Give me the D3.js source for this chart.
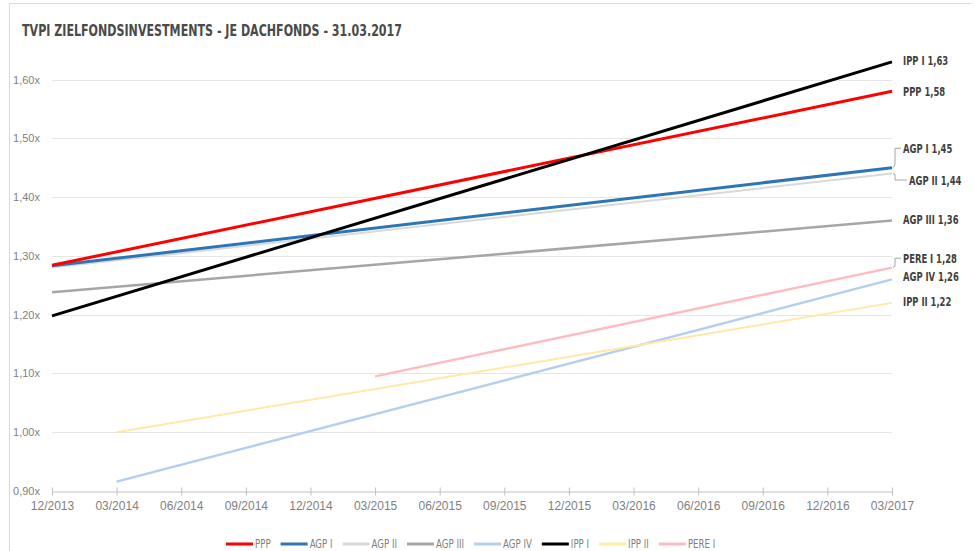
<!DOCTYPE html>
<html>
<head>
<meta charset="utf-8">
<script src="https://cdn.jsdelivr.net/npm/d3@7"></script>
<style>
  html, body { margin: 0; padding: 0; background: #fff; }
  svg { display: block; }
</style>
</head>
<body>
<svg id="chart" width="975" height="551"></svg>
<script>
// Quarter-end reporting dates on the x axis
const quarters = ["12/2013","03/2014","06/2014","09/2014","12/2014","03/2015","06/2015",
                  "09/2015","12/2015","03/2016","06/2016","09/2016","12/2016","03/2017"];

// Y axis ticks (TVPI multiple)
const yTicks = [0.9, 1.0, 1.1, 1.2, 1.3, 1.4, 1.5, 1.6];

// Fund names, drawing order and colours
const funds   = ["PPP", "AGP I", "AGP II", "AGP III", "AGP IV", "IPP I", "IPP II", "PERE I"];
const colors  = ["#ff0000", "#2e75b6", "#d9d9d9", "#a6a6a6", "#b4cfee", "#000000", "#ffe9a8", "#ffbcc0"];
const widths  = [3, 3, 2, 2.5, 2.5, 3, 2, 2.5];

// First reported quarter and TVPI values (first / latest) per fund
const startQuarter = ["12/2013","12/2013","12/2013","12/2013","03/2014","12/2013","03/2014","03/2015"];
const startValue   = [1.284, 1.283, 1.280, 1.238, 0.916, 1.198, 1.000, 1.095];
const endValue     = [1.58, 1.45, 1.44, 1.36, 1.26, 1.63, 1.22, 1.28];

// End-label text and vertical position (in value units, to keep labels apart)
const endLabels  = ["PPP 1,58", "AGP I 1,45", "AGP II 1,44", "AGP III 1,36", "AGP IV 1,26", "IPP I 1,63", "IPP II 1,22", "PERE I 1,28"];
const labelValue = [1.58, 1.483, 1.429, 1.362, 1.265, 1.632, 1.223, 1.296];

const title = "TVPI ZIELFONDSINVESTMENTS - JE DACHFONDS - 31.03.2017";

const svg = d3.select("#chart");
const W = 975, H = 551;
const margin = { left: 52, right: 83, top: 20, bottom: 60 };

const x = d3.scalePoint().domain(quarters).range([margin.left, W - margin.right]);
const y = d3.scaleLinear().domain([0.9, 1.6]).range([491, 79.5]);

const narrow = "'Liberation Sans Narrow', 'DejaVu Sans Condensed', 'Liberation Sans', sans-serif";

// text drawn horizontally squeezed, to mimic a condensed face
function condensedText(parent, px, py, factor) {
  return parent.append("text")
    .attr("x", 0).attr("y", 0)
    .attr("transform", `translate(${px},${py}) scale(${factor},1)`);
}

// frame (top and left edges)
svg.append("path")
  .attr("d", `M9.5,${H} L9.5,3.5 L971,3.5`)
  .attr("fill", "none").attr("stroke", "#d9d9d9").attr("stroke-width", 1);

// title
condensedText(svg, 22, 35.5, 0.86)
  .attr("font-family", narrow)
  .attr("font-weight", "bold").attr("font-size", 16.5)
  .attr("fill", "#4a4a4a")
  .attr("textLength", 380 / 0.86).attr("lengthAdjust", "spacingAndGlyphs")
  .text(title);

// horizontal gridlines
svg.append("g").selectAll("line")
  .data(yTicks.filter(d => d > 0.9))
  .join("line")
  .attr("x1", x(quarters[0])).attr("x2", x(quarters[quarters.length - 1]))
  .attr("y1", d => Math.round(y(d)) + 0.5).attr("y2", d => Math.round(y(d)) + 0.5)
  .attr("stroke", "#e6e6e6").attr("stroke-width", 1);

// y axis labels
const yAxis = d3.axisLeft(y).tickValues(yTicks).tickSize(0).tickPadding(12)
  .tickFormat(d => d3.format(".2f")(d).replace(".", ",") + "x");
const gy = svg.append("g").attr("transform", `translate(${margin.left},0)`).call(yAxis);
gy.select(".domain").remove();
gy.selectAll("text")
  .attr("font-family", "'Liberation Sans', Arial, sans-serif").attr("font-size", 11)
  .attr("fill", "#7f7f7f");

// x axis
const xAxis = d3.axisBottom(x).tickSize(4).tickSizeOuter(0).tickPadding(6);
const gx = svg.append("g").attr("transform", `translate(0,${Math.round(y(0.9)) + 0.5})`).call(xAxis);
gx.select(".domain").attr("stroke", "#bfbfbf");
gx.selectAll(".tick line").attr("stroke", "#bfbfbf").attr("y1", -4).attr("y2", 4);
gx.selectAll("text")
  .attr("font-family", "'Liberation Sans', Arial, sans-serif").attr("font-size", 12)
  .attr("fill", "#7f7f7f");

// series: straight development from first to latest quarter
const series = funds.map((f, i) => ({
  name: f, color: colors[i], width: widths[i],
  points: [[startQuarter[i], startValue[i]], [quarters[quarters.length - 1], endValue[i]]]
}));

const line = d3.line().x(d => x(d[0])).y(d => y(d[1]));
const drawOrder = [3, 4, 6, 7, 2, 1, 0, 5];
svg.append("g").selectAll("path")
  .data(drawOrder.map(i => series[i]))
  .join("path")
  .attr("d", d => line(d.points))
  .attr("fill", "none")
  .attr("stroke", d => d.color)
  .attr("stroke-width", d => d.width)
  .attr("stroke-linecap", "butt");

// end labels with leader lines where the label is moved off its line
const xEnd = x(quarters[quarters.length - 1]);
const lbl = svg.append("g");
funds.forEach((f, i) => {
  const yl = y(labelValue[i]);
  const ye = y(endValue[i]);
  const indent = (f === "AGP II") ? 17 : 11;
  if (Math.abs(yl - ye) > 6) {
    lbl.append("path")
      .attr("d", `M${xEnd + 1},${ye} L${xEnd + 3},${ye + (yl - ye) * 0.15} L${xEnd + 3},${yl} L${xEnd + indent - 2},${yl}`)
      .attr("fill", "none").attr("stroke", "#a6a6a6").attr("stroke-width", 1);
  }
  condensedText(lbl, xEnd + indent, yl, 0.72)
    .attr("dy", "0.35em")
    .attr("font-family", narrow).attr("font-weight", "bold").attr("font-size", 13)
    .attr("fill", "#404040")
    .text(endLabels[i]);
});

// legend
const legend = svg.append("g");
let lx = 226;
const ly = 544;
funds.forEach((f, i) => {
  legend.append("line")
    .attr("x1", lx).attr("x2", lx + 27).attr("y1", ly).attr("y2", ly)
    .attr("stroke", colors[i]).attr("stroke-width", 3);
  const t = condensedText(legend, lx + 29, ly, 0.8)
    .attr("dy", "0.35em")
    .attr("font-family", narrow).attr("font-size", 12)
    .attr("fill", "#7f7f7f")
    .text(f);
  lx += 29 + t.node().getComputedTextLength() * 0.8 + 10;
});
</script>
</body>
</html>
